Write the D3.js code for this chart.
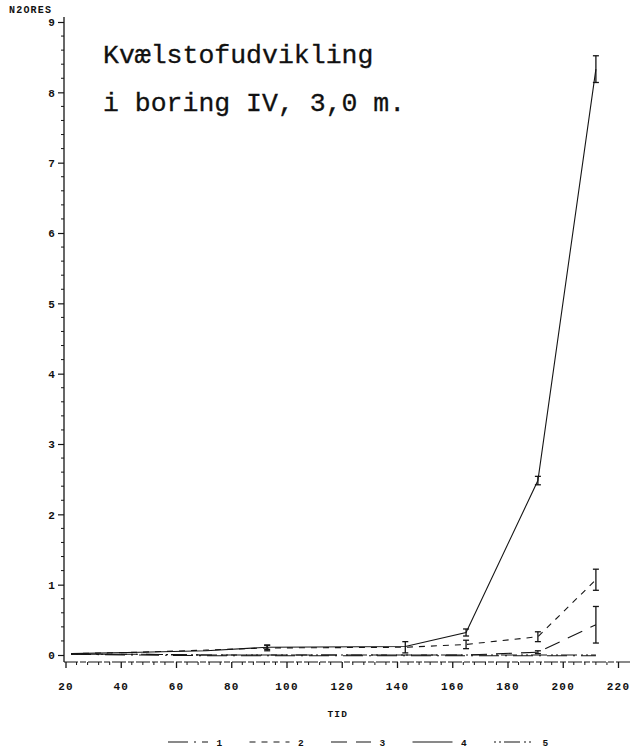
<!DOCTYPE html>
<html>
<head>
<meta charset="utf-8">
<script src="https://cdn.jsdelivr.net/npm/d3@7"></script>
<style>
  html, body { margin: 0; padding: 0; background: #fff; }
  svg { display: block; }
  .tick-label { font-family: "Liberation Mono", monospace; font-weight: bold; font-size: 11px; letter-spacing: 1.2px; fill: #111; }
  .title { font-family: "Liberation Mono", "Courier New", monospace; font-size: 26.5px; fill: #111; stroke: #111; stroke-width: 0.3px; }
</style>
</head>
<body>
<svg id="chart" width="634" height="755"></svg>
<script>
// Sampling times (TID) and the N2ORES response per series
const tid = [22, 47, 71, 93, 143, 165, 191, 212];
const series1 = [0.01, 0.00, -0.01, -0.01, -0.01, -0.01, -0.01, -0.01];
const series2 = [0.02, 0.04, 0.07, 0.10, 0.11, 0.15, 0.26, 1.07];
const series3 = [0.01, 0.01, 0.00, 0.00, 0.00, 0.00, 0.04, 0.43];
const series4 = [0.02, 0.04, 0.06, 0.11, 0.12, 0.32, 2.48, 8.33];
const series5 = [0.01, 0.01, 0.00, 0.00, 0.00, 0.00, 0.00, 0.00];

// Half-widths of the error bars (null = no bar drawn)
const err2 = [null, null, null, 0.04, 0.08, 0.06, 0.07, 0.15];
const err3 = [null, null, null, null, null, null, 0.02, 0.26];
const err4 = [null, null, null, 0.03, null, 0.05, 0.06, 0.19];

const seriesNames = ["1", "2", "3", "4", "5"];
const xTicks = [20, 40, 60, 80, 100, 120, 140, 160, 180, 200, 220];
const yTicks = [0, 1, 2, 3, 4, 5, 6, 7, 8, 9];
const titleLines = ["Kvælstofudvikling", "i boring IV, 3,0 m."];

const svg = d3.select("#chart");

const x = d3.scaleLinear().domain([20, 220]).range([65.5, 618]);
const y = d3.scaleLinear().domain([0, 9]).range([655, 22]);
const axisX = 64;     // position of the vertical axis
const axisY = 662;    // position of the horizontal axis

const ink = "#151515";

// line patterns per series
const dashes = ["20,6,2,6", "6,6", "16,9", null, "2,3,2,3,16,4"];

const allSeries = [series1, series2, series3, series4, series5];
const allErr = [null, err2, err3, err4, null];

// ---- axes ----
const yAxis = d3.axisLeft(y).tickValues(yTicks).tickSize(6).tickFormat(d3.format("d"));
const gy = svg.append("g").attr("transform", `translate(${axisX},0)`).call(yAxis);
gy.select(".domain").remove();
gy.selectAll(".tick line").attr("stroke", ink).attr("stroke-width", 1.2);
gy.selectAll(".tick text").attr("class", "tick-label").attr("x", -8).attr("dy", "0.35em");
svg.append("line").attr("x1", axisX).attr("x2", axisX).attr("y1", 17).attr("y2", axisY)
  .attr("stroke", ink).attr("stroke-width", 1.3);
// minor y ticks
const yMinor = d3.range(0, 9.001, 0.2).filter(v => Math.abs(v - Math.round(v)) > 1e-6);
svg.append("g").selectAll("line").data(yMinor).join("line")
  .attr("x1", axisX - 3).attr("x2", axisX).attr("y1", d => y(d)).attr("y2", d => y(d))
  .attr("stroke", ink).attr("stroke-width", 1);

const xAxis = d3.axisBottom(x).tickValues(xTicks).tickSize(6).tickFormat(d3.format("d"));
const gx = svg.append("g").attr("transform", `translate(0,${axisY})`).call(xAxis);
gx.select(".domain").remove();
gx.selectAll(".tick line").attr("stroke", ink).attr("stroke-width", 1.3);
gx.selectAll(".tick text").attr("class", "tick-label").attr("y", 20);
svg.append("line").attr("x1", axisX).attr("x2", 630).attr("y1", axisY).attr("y2", axisY)
  .attr("stroke", ink).attr("stroke-width", 1.1).attr("stroke-dasharray", "14,2,6,2");
// minor x ticks
const xMinor = d3.range(20, 220.001, 4).filter(v => v % 20 !== 0);
svg.append("g").selectAll("line").data(xMinor).join("line")
  .attr("x1", d => x(d)).attr("x2", d => x(d)).attr("y1", axisY).attr("y2", axisY + 3)
  .attr("stroke", ink).attr("stroke-width", 1);

// axis titles
svg.append("text").attr("class", "tick-label").attr("x", 9).attr("y", 13)
  .style("font-size", "10px").style("letter-spacing", "1.2px").text("N2ORES");
svg.append("text").attr("class", "tick-label").attr("x", x(120) - 4).attr("y", 717)
  .attr("text-anchor", "middle").style("font-size", "9.5px").text("TID");

// title
svg.append("g").selectAll("text").data(titleLines).join("text")
  .attr("class", "title").attr("x", 103).attr("y", (d, i) => 63 + i * 48).text(d => d);

// ---- series lines ----
const line = d3.line().x(d => x(d[0])).y(d => y(d[1]));
allSeries.forEach((vals, k) => {
  const pts = tid.map((t, i) => [t, vals[i]]);
  svg.append("path").datum(pts).attr("d", line)
    .attr("fill", "none").attr("stroke", ink).attr("stroke-width", 1.1)
    .attr("stroke-dasharray", dashes[k]);
});

// ---- error bars ----
allErr.forEach((errs, k) => {
  if (!errs) return;
  const vals = allSeries[k];
  const rows = tid.map((t, i) => ({ t, v: vals[i], e: errs[i] })).filter(r => r.e != null);
  const g = svg.append("g").attr("stroke", ink).attr("stroke-width", 1.3);
  g.selectAll("line.v").data(rows).join("line").attr("class", "v")
    .attr("x1", r => x(r.t)).attr("x2", r => x(r.t))
    .attr("y1", r => y(r.v - r.e)).attr("y2", r => y(r.v + r.e));
  g.selectAll("line.top").data(rows).join("line").attr("class", "top")
    .attr("x1", r => x(r.t) - 3).attr("x2", r => x(r.t) + 3)
    .attr("y1", r => y(r.v + r.e)).attr("y2", r => y(r.v + r.e));
  g.selectAll("line.bot").data(rows).join("line").attr("class", "bot")
    .attr("x1", r => x(r.t) - 3).attr("x2", r => x(r.t) + 3)
    .attr("y1", r => y(r.v - r.e)).attr("y2", r => y(r.v - r.e));
});

// ---- legend ----
const legendY = 742;
const legend = svg.append("g");
seriesNames.forEach((name, k) => {
  const x0 = 168 + k * 81.5;
  legend.append("line").attr("x1", x0).attr("x2", x0 + 40).attr("y1", legendY).attr("y2", legendY)
    .attr("stroke", ink).attr("stroke-width", 1.1).attr("stroke-dasharray", dashes[k]);
  legend.append("text").attr("class", "tick-label").attr("x", x0 + 52).attr("y", legendY + 3.5)
    .attr("text-anchor", "middle").style("font-size", "9.5px").text(name);
});
</script>
</body>
</html>
